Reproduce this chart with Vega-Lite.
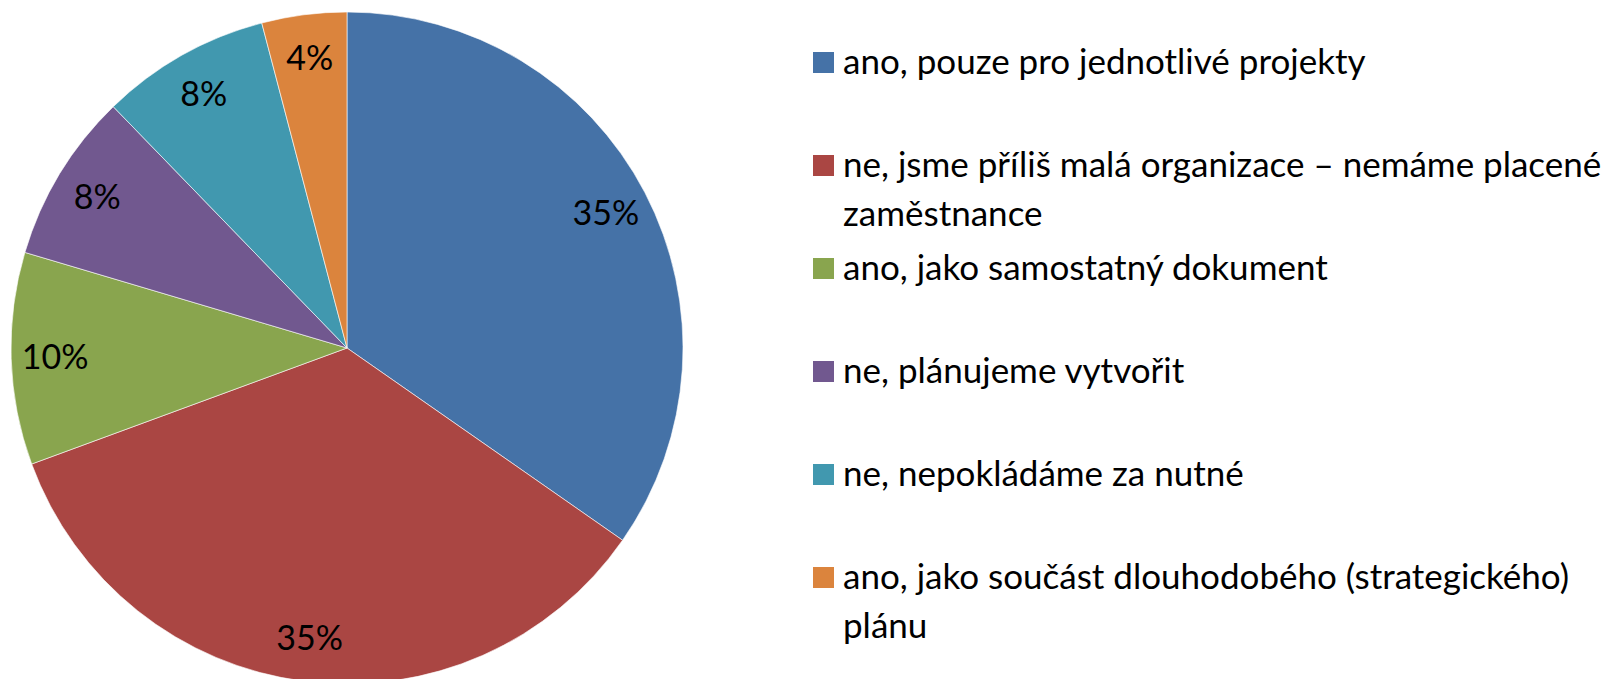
{
  "$schema": "https://vega.github.io/schema/vega-lite/v6.json",
  "width": 694,
  "height": 696,
  "padding": 0,
  "background": "white",
  "data": {
    "values": [
      {"kategorie": "ano, pouze pro jednotlivé projekty", "pocet": 17, "poradi": 1, "popisek": "35%"},
      {"kategorie": "ne, jsme příliš malá organizace – nemáme placené zaměstnance", "pocet": 17, "poradi": 2, "popisek": "35%"},
      {"kategorie": "ano, jako samostatný dokument", "pocet": 5, "poradi": 3, "popisek": "10%"},
      {"kategorie": "ne, plánujeme vytvořit", "pocet": 4, "poradi": 4, "popisek": "8%"},
      {"kategorie": "ne, nepokládáme za nutné", "pocet": 4, "poradi": 5, "popisek": "8%"},
      {"kategorie": "ano, jako součást dlouhodobého (strategického) plánu", "pocet": 2, "poradi": 6, "popisek": "4%"}
    ]
  },
  "encoding": {
    "theta": {"field": "pocet", "type": "quantitative", "stack": true},
    "order": {"field": "poradi", "type": "quantitative"},
    "color": {
      "field": "kategorie",
      "type": "nominal",
      "sort": null,
      "scale": {
        "domain": [
          "ano, pouze pro jednotlivé projekty",
          "ne, jsme příliš malá organizace – nemáme placené zaměstnance",
          "ano, jako samostatný dokument",
          "ne, plánujeme vytvořit",
          "ne, nepokládáme za nutné",
          "ano, jako součást dlouhodobého (strategického) plánu"
        ],
        "range": ["#4572A7", "#AA4643", "#89A54E", "#71588F", "#4198AF", "#DB843D"]
      },
      "legend": {
        "title": null,
        "orient": "none",
        "legendX": 806,
        "legendY": 45,
        "symbolType": "square",
        "symbolSize": 441,
        "symbolStrokeWidth": 0,
        "symbolOpacity": 1,
        "labelFont": "Lato",
        "labelFontSize": 35,
        "labelColor": "black",
        "labelLimit": 900,
        "labelOffset": 2,
        "gridAlign": "all",
        "rowPadding": 18,
        "labelExpr": "datum.label == 'ne, jsme příliš malá organizace – nemáme placené zaměstnance' ? ['ne, jsme příliš malá organizace – nemáme placené', 'zaměstnance'] : datum.label == 'ano, jako součást dlouhodobého (strategického) plánu' ? ['ano, jako součást dlouhodobého (strategického)', 'plánu'] : datum.label"
      }
    }
  },
  "layer": [
    {
      "mark": {"type": "arc", "outerRadius": 336, "stroke": "white", "strokeWidth": 0.6}
    },
    {
      "mark": {"type": "text", "radius": 292, "font": "Lato", "fontSize": 34, "fill": "black", "baseline": "middle", "align": "center", "dy": 2},
      "encoding": {
        "text": {"field": "popisek", "type": "nominal"},
        "color": {"value": "black"}
      }
    }
  ],
  "config": {
    "view": {"stroke": null},
    "style": {"guide-label": {"lineHeight": 49}}
  }
}
